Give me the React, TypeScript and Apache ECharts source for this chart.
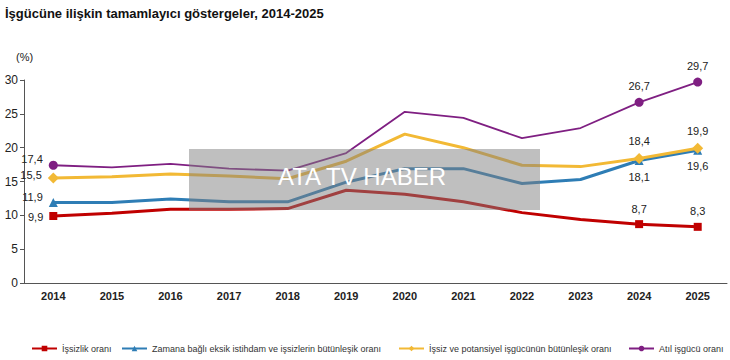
import React, { useEffect, useRef } from "react";
import * as echarts from "echarts";

const years = ["2014", "2015", "2016", "2017", "2018", "2019", "2020", "2021", "2022", "2023", "2024", "2025"];
const unemployment = [9.9, 10.3, 10.9, 10.9, 11.0, 13.7, 13.1, 12.0, 10.4, 9.4, 8.7, 8.3];
const timeRelated = [11.9, 11.9, 12.4, 12.0, 12.0, 14.9, 16.9, 16.9, 14.7, 15.3, 18.1, 19.6];
const potential = [15.5, 15.7, 16.1, 15.8, 15.4, 18.0, 22.0, 20.0, 17.4, 17.2, 18.4, 19.9];
const underutil = [17.4, 17.1, 17.6, 16.9, 16.6, 19.2, 25.3, 24.4, 21.4, 22.9, 26.7, 29.7];
const seriesNames = [
  "İşsizlik oranı",
  "Zamana bağlı eksik istihdam ve işsizlerin bütünleşik oranı",
  "İşsiz ve potansiyel işgücünün bütünleşik oranı",
  "Atıl işgücü oranı",
];
const yTicks = [0, 5, 10, 15, 20, 25, 30];
const markedIdx = [0, 10, 11];

const fmt = (v: number) => v.toFixed(1).replace(".", ",");

function buildData(values: number[], symbol: string, size: number, pos2014: any, posEnd: string) {
  return values.map((v, i) => {
    const marked = markedIdx.includes(i);
    if (!marked) return { value: v, symbol: "none" };
    return {
      value: v,
      symbol,
      symbolSize: size,
      label: {
        show: true,
        formatter: fmt(v),
        position: i === 0 ? "left" : posEnd,
        distance: 6,
        offset: i === 0 ? pos2014 : [0, 0],
        color: "#222",
        fontSize: 11,
        fontFamily: "Liberation Sans, Arial, sans-serif",
      },
    };
  });
}

export default function App() {
  const ref = useRef<HTMLDivElement>(null);
  useEffect(() => {
    const chart = echarts.init(ref.current!, null, { renderer: "svg" });
    const colors = ["#C00000", "#2E7DB5", "#F2B935", "#7F1F82"];
    const legendLefts = [26, 116, 393, 623];
    chart.setOption({
      animation: false,
      textStyle: { fontFamily: "Liberation Sans, Arial, sans-serif" },
      title: {
        text: "İşgücüne ilişkin tamamlayıcı göstergeler, 2014-2025",
        left: 0,
        top: 2,
        textStyle: { fontSize: 13, fontWeight: "bold", color: "#111", fontFamily: "Liberation Sans, Arial, sans-serif" },
      },
      legend: seriesNames.map((n, i) => ({
        data: [n],
        left: legendLefts[i],
        top: 339,
        itemWidth: 25,
        itemHeight: 7,
        textStyle: { fontSize: 9, color: "#333", fontFamily: "Liberation Sans, Arial, sans-serif" },
      })),
      grid: { left: 24, right: 3, top: 80, bottom: 77 },
      xAxis: {
        type: "category",
        data: years,
        boundaryGap: true,
        axisLine: { lineStyle: { color: "#555", width: 1 } },
        axisTick: { show: false },
        axisLabel: { fontSize: 11, fontWeight: "bold", color: "#222", margin: 7 },
      },
      yAxis: {
        type: "value",
        min: 0,
        max: 30,
        interval: 5,
        splitLine: { show: false },
        axisLine: { show: true, lineStyle: { color: "#555", width: 1 } },
        axisTick: { show: true, length: 4, lineStyle: { color: "#555" } },
        axisLabel: { fontSize: 12, color: "#222", margin: 6, formatter: (v: number) => (yTicks.includes(v) ? String(v) : "") },
      },
      series: [
        {
          name: seriesNames[0],
          type: "line",
          data: buildData(unemployment, "rect", 8, [0, 1], "top"),
          symbol: "rect",
          symbolSize: 8,
          lineStyle: { width: 3, color: colors[0] },
          itemStyle: { color: colors[0] },
          z: 2,
        },
        {
          name: seriesNames[1],
          type: "line",
          data: buildData(timeRelated, "triangle", 9, [0, -5], "bottom"),
          symbol: "triangle",
          symbolSize: 9,
          lineStyle: { width: 3, color: colors[1] },
          itemStyle: { color: colors[1] },
          z: 3,
        },
        {
          name: seriesNames[2],
          type: "line",
          data: buildData(potential, "diamond", 11, [0, -3], "top"),
          symbol: "diamond",
          symbolSize: 11,
          lineStyle: { width: 3, color: colors[2] },
          itemStyle: { color: colors[2] },
          z: 4,
        },
        {
          name: seriesNames[3],
          type: "line",
          data: buildData(underutil, "circle", 9, [0, -6], "top"),
          symbol: "circle",
          symbolSize: 9,
          lineStyle: { width: 1.8, color: colors[3] },
          itemStyle: { color: colors[3] },
          z: 5,
        },
      ],
      graphic: [
        {
          type: "text",
          left: 16,
          top: 51,
          style: { text: "(%)", fontSize: 11, fill: "#222", fontFamily: "Liberation Sans, Arial, sans-serif" },
        },
        {
          type: "rect",
          shape: { x: 189, y: 149, width: 351, height: 61 },
          style: { fill: "rgba(128,128,128,0.5)" },
          z: 100,
        },
        {
          type: "text",
          x: 362,
          y: 176,
          style: {
            text: "ATA TV HABER",
            fontSize: 24,
            fill: "#ffffff",
            align: "center",
            verticalAlign: "middle",
            fontFamily: "Liberation Sans, Arial, sans-serif",
          },
          z: 101,
        },
      ],
    });
    return () => chart.dispose();
  }, []);
  return <div ref={ref} style={{ width: 730, height: 360, position: "absolute", left: 0, top: 0 }} />;
}
